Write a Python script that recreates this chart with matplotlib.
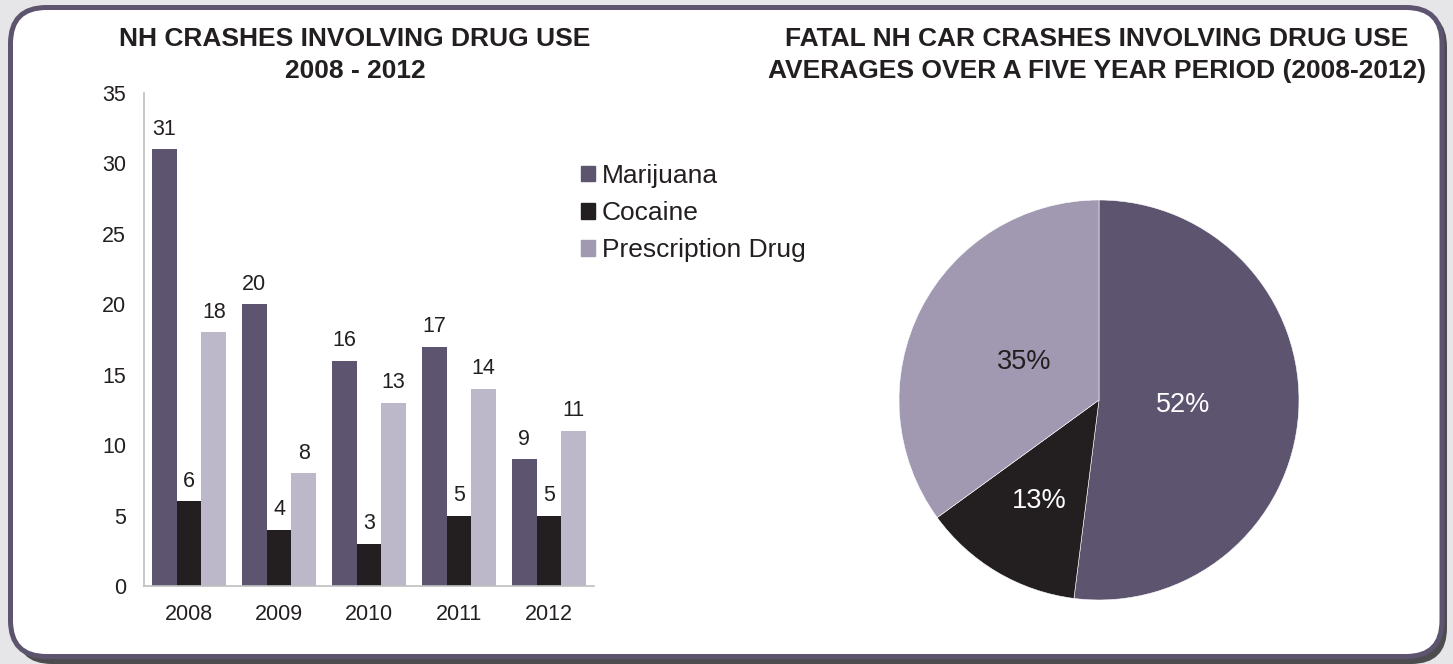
import matplotlib.pyplot as plt
import numpy as np
from matplotlib.patches import FancyBboxPatch, Patch

plt.rcParams['font.family'] = ['Liberation Sans', 'DejaVu Sans']

# Datos
years = ['2008', '2009', '2010', '2011', '2012']
marijuana = [31, 20, 16, 17, 9]
cocaine = [6, 4, 3, 5, 5]
prescription = [18, 8, 13, 14, 11]
drugs = ['Marijuana', 'Cocaine', 'Prescription Drug']
fatal_pct = [52, 13, 35]

c_mar = '#5d5470'
c_coc = '#231f20'
c_pre_bar = '#bcb8c9'
c_pre_pie = '#a198b2'
txt = '#231f20'

W, H = 1453, 664
fig = plt.figure(figsize=(W / 100, H / 100), dpi=100)
fig.patch.set_facecolor('#e6e6e8')

# marco redondeado con sombra
shadow = FancyBboxPatch((16, 0), W - 22, H - 11,
                        boxstyle='round,pad=0,rounding_size=36',
                        transform=None, facecolor='#4d4d4f', edgecolor='none', zorder=-3)
frame = FancyBboxPatch((10.5, 7.5), W - 21.5, H - 15,
                       boxstyle='round,pad=0,rounding_size=36',
                       transform=None, facecolor='white', edgecolor=c_mar,
                       linewidth=3.6, zorder=-2)
fig.patches.extend([shadow, frame])

# barras
ax = fig.add_axes([144 / W, 1 - 586 / H, 450 / W, 493 / H])
ax.set_facecolor('none')
x = np.arange(len(years))
w = 0.275
b1 = ax.bar(x - w, marijuana, w, color=c_mar, label=drugs[0])
b2 = ax.bar(x, cocaine, w, color=c_coc, label=drugs[1])
b3 = ax.bar(x + w, prescription, w, color=c_pre_bar, label=drugs[2])
for b in (b1, b2, b3):
    ax.bar_label(b, padding=7, fontsize=15.5, color=txt)
ax.set_xlim(-0.5, len(years) - 0.5)
ax.set_ylim(0, 35)
ax.set_yticks(range(0, 36, 5))
ax.set_xticks(x)
ax.set_xticklabels(years)
ax.tick_params(length=0, labelsize=15.5, labelcolor=txt)
ax.tick_params(axis='y', pad=13)
ax.tick_params(axis='x', pad=13)
for s in ('top', 'right'):
    ax.spines[s].set_visible(False)
for s in ('left', 'bottom'):
    ax.spines[s].set_color('#bfbfbf')
    ax.spines[s].set_linewidth(1.2)

fig.text(355 / W, 1 - 55 / H, 'NH CRASHES INVOLVING DRUG USE\n2008 - 2012',
         ha='center', va='center', fontsize=19, fontweight='bold', color=txt,
         linespacing=1.45)

handles = [Patch(color=c_mar), Patch(color=c_coc), Patch(color=c_pre_pie)]
fig.legend(handles, drugs, loc='upper left', bbox_to_anchor=(581 / W, 1 - 164 / H),
           frameon=False, fontsize=19, handlelength=0.53, handleheight=0.53,
           handletextpad=0.27, labelspacing=0.5, borderaxespad=0, borderpad=0,
           labelcolor=txt)

# pastel
axp = fig.add_axes([899 / W, 1 - 600 / H, 400 / W, 400 / H])
wedges, texts, autotexts = axp.pie(fatal_pct, colors=[c_mar, c_coc, c_pre_pie],
                                   startangle=90, counterclock=False,
                                   autopct='%d%%', pctdistance=0.6,
                                   wedgeprops=dict(edgecolor='white', linewidth=0.4),
                                   textprops=dict(fontsize=19.5))
dist = [0.42, 0.585, 0.42]
pct_colors = ['white', 'white', txt]
for wd, t, d, c in zip(wedges, autotexts, dist, pct_colors):
    ang = np.deg2rad((wd.theta1 + wd.theta2) / 2)
    t.set_position((d * np.cos(ang), d * np.sin(ang)))
    t.set_color(c)
axp.set_xlim(-1, 1)
axp.set_ylim(-1, 1)

fig.text(1097 / W, 1 - 55 / H,
         'FATAL NH CAR CRASHES INVOLVING DRUG USE\nAVERAGES OVER A FIVE YEAR PERIOD (2008-2012)',
         ha='center', va='center', fontsize=19, fontweight='bold', color=txt,
         linespacing=1.45)

fig.savefig('out.png', dpi=100, facecolor=fig.get_facecolor())
